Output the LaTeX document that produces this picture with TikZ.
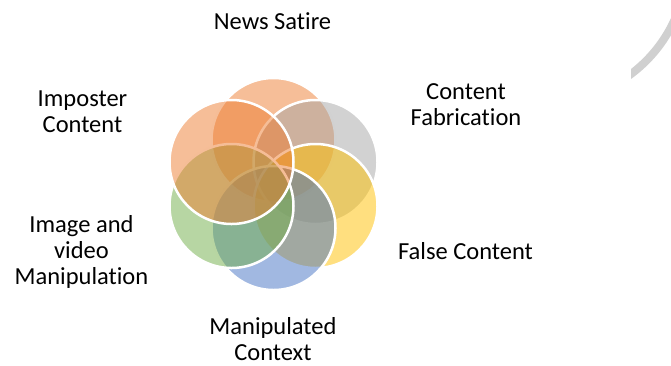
\documentclass[tikz,border=0pt]{standalone}
\usepackage{fontspec}
\setmainfont{Carlito}[Ligatures=CommonOff]
\usepackage{xcolor}
\usepackage{tikz}
\usetikzlibrary{positioning}

\definecolor{satirecol}{HTML}{ED7D31}
\definecolor{fabcol}{HTML}{A5A5A5}
\definecolor{falsecol}{HTML}{FFC000}
\definecolor{contextcol}{HTML}{4472C4}
\definecolor{imagecol}{HTML}{70AD47}
\definecolor{impostercol}{HTML}{ED7D31}
\definecolor{edgegray}{RGB}{208,208,208}

\tikzset{
    petal/.style={circle, draw=white, line width=2.5pt, fill opacity=0.5, inner sep=0pt, minimum size=124pt},
    lbl/.style={font=\fontsize{24.5}{25.8}\selectfont, text=black, align=center, anchor=base, inner sep=0pt}
}

\begin{document}
\begin{tikzpicture}[x=1pt, y=-1pt]
    \useasboundingbox (0, 0) rectangle (671, 365);

    % stray arc at the corner
    \begin{scope}
        \clip (631, 0) rectangle (671, 100);
        \draw[edgegray, line width=8pt] (547, -38) circle (140pt);
    \end{scope}

    \node[petal, fill=satirecol] (sat) at (273.5, 140) {};
    \node[petal, fill=fabcol] (fab) at (315.5, 162) {};
    \node[petal, fill=falsecol] (fal) at (315.5, 206) {};
    \node[petal, fill=contextcol] (ctx) at (273.5, 228) {};
    \node[petal, fill=imagecol] (img) at (231.5, 206) {};
    \node[petal, fill=impostercol] (imp) at (231.5, 162) {};

    % base of a multi-line label is its last line
    \node[lbl] (tsat) at (272.5, 29) {News Satire};
    \node[lbl] (tfab) at (466, 125) {Content\\Fabrication};
    \node[lbl] (tfal) at (465.5, 259) {False Content};
    \node[lbl] (tctx) at (273, 360) {Manipulated\\Context};
    \node[lbl] (timg) at (81.5, 284) {Image and\\video\\Manipulation};
    \node[lbl] (timp) at (82.5, 132) {Imposter\\Content};
\end{tikzpicture}
\end{document}
